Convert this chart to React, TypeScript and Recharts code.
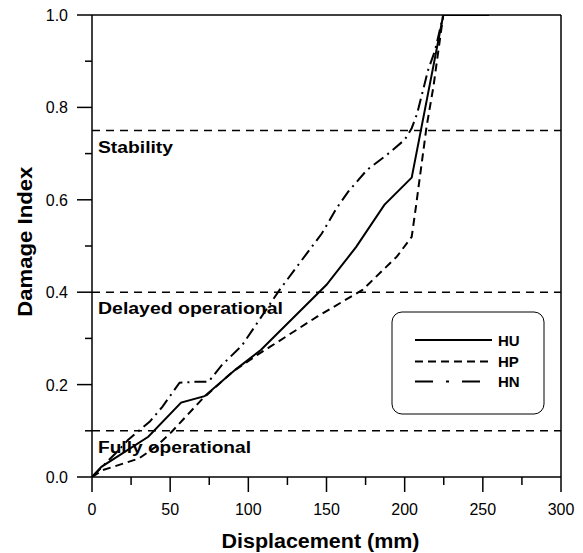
import React from 'react';
import { LineChart, Line, XAxis, YAxis, ReferenceLine } from 'recharts';

// Series data (Displacement mm, Damage Index)
const huX = [0, 6, 36, 57, 72, 92, 108, 150, 169, 187, 204.5, 224.7, 254];
const huY = [0, 0.022, 0.087, 0.161, 0.175, 0.233, 0.275, 0.416, 0.498, 0.589, 0.648, 1.0, 1.0];

const hpX = [0, 7, 30, 41, 51, 70, 90, 106, 114, 144, 173, 195, 204.5, 207, 214, 218.4, 224.7];
const hpY = [0, 0.015, 0.04, 0.066, 0.098, 0.167, 0.228, 0.265, 0.282, 0.347, 0.405, 0.477, 0.52, 0.58, 0.758, 0.845, 1.0];

const hnX = [0, 17, 23, 37, 45, 56, 66, 74.5, 83, 96, 120, 131, 147, 156.5, 164, 176, 188.5, 200, 204.5, 208, 215, 219.5, 224.7];
const hnY = [0, 0.058, 0.08, 0.12, 0.152, 0.204, 0.206, 0.206, 0.242, 0.285, 0.405, 0.455, 0.527, 0.582, 0.618, 0.665, 0.697, 0.73, 0.755, 0.787, 0.881, 0.924, 1.0];

const seriesNames = ['HU', 'HP', 'HN'];

const xTicks = [0, 25, 50, 75, 100, 125, 150, 175, 200, 225, 250, 275, 300];
const xMajor = [0, 50, 100, 150, 200, 250, 300];
const yTicks = [0, 0.1, 0.2, 0.3, 0.4, 0.5, 0.6, 0.7, 0.8, 0.9, 1.0];
const yMajor = [0, 0.2, 0.4, 0.6, 0.8, 1.0];

const levelValues = [0.75, 0.4, 0.1];
const levelLabels = ['Stability', 'Delayed operational', 'Fully operational'];
const levelLabelWidths = [75, 185, 153];

const zip = (xs: number[], ys: number[]) => xs.map((x, i) => ({ x, y: ys[i] }));
const huData = zip(huX, huY);
const hpData = zip(hpX, hpY);
const hnData = zip(hnX, hnY);

const FONT = '"Liberation Sans", Arial, Helvetica, sans-serif';

const XTick = (props: any) => {
  const { x, y, payload } = props;
  const major = xMajor.includes(payload.value);
  return (
    <g>
      <line x1={x} y1={y} x2={x} y2={y + (major ? 15 : 8)} stroke="#000" strokeWidth={1.5} />
      {major && (
        <text x={x} y={y + 38} textAnchor="middle" fontSize={16} fontFamily={FONT} fill="#000">
          {payload.value}
        </text>
      )}
    </g>
  );
};

const YTick = (props: any) => {
  const { x, y, payload } = props;
  const major = yMajor.some((v) => Math.abs(v - payload.value) < 1e-6);
  return (
    <g>
      <line x1={x} y1={y} x2={x - (major ? 15 : 7)} y2={y} stroke="#000" strokeWidth={1.5} />
      {major && (
        <text x={x - 24} y={y + 6} textAnchor="end" fontSize={16} fontFamily={FONT} fill="#000">
          {Number(payload.value).toFixed(1)}
        </text>
      )}
    </g>
  );
};

const makeLevelLabel = (text: string, width: number) => (props: any) => {
  const vb = props.viewBox || {};
  return (
    <text
      x={(vb.x || 0) + 6}
      y={(vb.y || 0) + 22}
      fontSize={16}
      fontWeight="bold"
      fontFamily={FONT}
      fill="#000"
      textLength={width}
      lengthAdjust="spacingAndGlyphs"
    >
      {text}
    </text>
  );
};

const seriesStyles = [
  { data: huData, dash: undefined as string | undefined, width: 2 },
  { data: hpData, dash: '8 5', width: 2 },
  { data: hnData, dash: '12 5 2 5', width: 2 },
];

export default function App() {
  return (
    <div style={{ position: 'absolute', left: 0, top: 0, width: 583, height: 553, background: '#fff' }}>
      <LineChart
        width={583}
        height={553}
        margin={{ top: 15, right: 22, bottom: 75, left: 91 }}
      >
        <XAxis
          type="number"
          dataKey="x"
          domain={[0, 300]}
          ticks={xTicks}
          interval={0}
          height={1}
          tickSize={0}
          tickMargin={0}
          tickLine={false}
          tick={<XTick />}
          axisLine={{ stroke: '#000', strokeWidth: 1.5 }}
          allowDataOverflow
        />
        <YAxis
          type="number"
          dataKey="y"
          domain={[0, 1]}
          ticks={yTicks}
          interval={0}
          width={1}
          tickSize={0}
          tickMargin={0}
          tickLine={false}
          tick={<YTick />}
          axisLine={{ stroke: '#000', strokeWidth: 1.5 }}
          allowDataOverflow
        />
        <ReferenceLine y={1} stroke="#000" strokeWidth={1.5} />
        <ReferenceLine x={300} stroke="#000" strokeWidth={1.5} />
        {levelValues.map((v, i) => (
          <ReferenceLine
            key={levelLabels[i]}
            y={v}
            stroke="#000"
            strokeWidth={1.5}
            strokeDasharray="8 6"
            label={makeLevelLabel(levelLabels[i], levelLabelWidths[i])}
          />
        ))}
        {seriesStyles.map((s, i) => (
          <Line
            key={seriesNames[i]}
            name={seriesNames[i]}
            data={s.data}
            dataKey="y"
            type="linear"
            stroke="#000"
            strokeWidth={s.width}
            strokeDasharray={s.dash}
            dot={false}
            activeDot={false}
            isAnimationActive={false}
          />
        ))}
      </LineChart>
      <svg
        width={583}
        height={553}
        style={{ position: 'absolute', left: 0, top: 0, pointerEvents: 'none' }}
      >
        <text
          x={320.5}
          y={548}
          textAnchor="middle"
          fontSize={20}
          fontWeight="bold"
          fontFamily={FONT}
          textLength={198}
          lengthAdjust="spacingAndGlyphs"
          fill="#000"
        >
          Displacement (mm)
        </text>
        <text
          x={0}
          y={0}
          transform="translate(31.5,241.7) rotate(-90)"
          textAnchor="middle"
          fontSize={20}
          fontWeight="bold"
          fontFamily={FONT}
          textLength={150}
          lengthAdjust="spacingAndGlyphs"
          fill="#000"
        >
          Damage Index
        </text>
        <rect x={392} y={312} width={152} height={102} rx={10} ry={10} fill="#fff" stroke="#000" strokeWidth={1} />
        {seriesNames.map((n, i) => {
          const yy = [340, 361.5, 381.5][i];
          const dash = [undefined, '8 5', '18 13 3 13'][i];
          return (
            <g key={n}>
              <line x1={415} y1={yy} x2={492} y2={yy} stroke="#000" strokeWidth={2} strokeDasharray={dash} />
              <text x={498} y={yy + 5.5} fontSize={15} fontWeight="bold" fontFamily={FONT} fill="#000">
                {n}
              </text>
            </g>
          );
        })}
      </svg>
    </div>
  );
}
